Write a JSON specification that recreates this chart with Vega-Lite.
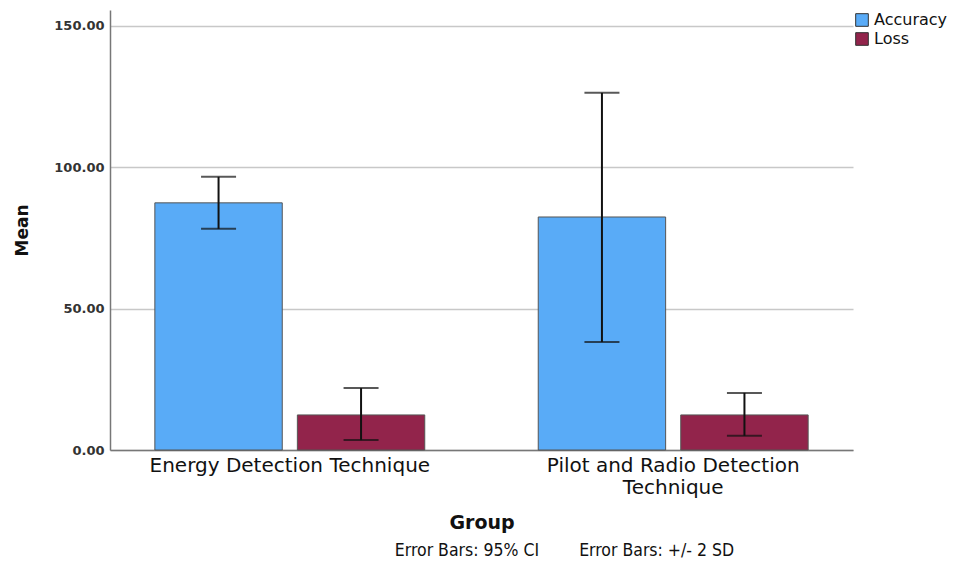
{
  "$schema": "https://vega.github.io/schema/vega-lite/v6.json",
  "width": 743,
  "height": 440,
  "autosize": {"type": "none"},
  "padding": {"left": 110, "top": 10, "right": 101, "bottom": 117},
  "background": "white",
  "title": {
    "text": "Error Bars: 95% CI\u00a0\u00a0\u00a0\u00a0\u00a0\u00a0\u00a0\u00a0Error Bars: +/- 2 SD",
    "orient": "bottom",
    "anchor": "middle",
    "dx": 83,
    "offset": 10,
    "font": "DejaVu Sans Condensed",
    "fontSize": 17.5,
    "fontWeight": "normal",
    "color": "#111"
  },
  "data": {
    "values": [
      {"group": "Energy Detection Technique", "measure": "Accuracy", "mean": 87.4, "lo": 78.2, "hi": 96.6},
      {"group": "Energy Detection Technique", "measure": "Loss", "mean": 12.4, "lo": 3.5, "hi": 21.9},
      {"group": "Pilot and Radio Detection Technique", "measure": "Accuracy", "mean": 82.4, "lo": 38.2, "hi": 126.3},
      {"group": "Pilot and Radio Detection Technique", "measure": "Loss", "mean": 12.4, "lo": 5.0, "hi": 20.2}
    ]
  },
  "encoding": {
    "x": {
      "field": "group",
      "type": "nominal",
      "sort": null,
      "scale": {"paddingInner": 0.296, "paddingOuter": 0.117},
      "axis": {
        "title": "Group",
        "titleFont": "DejaVu Sans",
        "titleFontSize": 19,
        "titleFontWeight": "bold",
        "titleColor": "#111",
        "titlePadding": 16,
        "labelAngle": 0,
        "labelFont": "DejaVu Sans",
        "labelFontSize": 20,
        "labelColor": "#111",
        "labelPadding": 5,
        "labelLimit": 0,
        "labelLineHeight": 22,
        "labelExpr": "datum.value == 'Pilot and Radio Detection Technique' ? ['Pilot and Radio Detection', 'Technique'] : datum.value",
        "ticks": false,
        "domainColor": "#777",
        "domainWidth": 1.5,
        "grid": false
      }
    },
    "xOffset": {
      "field": "measure",
      "type": "nominal",
      "scale": {"paddingInner": 0.106, "paddingOuter": 0}
    }
  },
  "layer": [
    {
      "mark": {"type": "bar", "stroke": "#555", "strokeWidth": 1},
      "encoding": {
        "y": {
          "field": "mean",
          "type": "quantitative",
          "scale": {"domain": [0, 155.6], "nice": false},
          "axis": {
            "title": "Mean",
            "titleFont": "DejaVu Sans",
            "titleFontSize": 17,
            "titleFontWeight": "bold",
            "titleColor": "#111",
            "titlePadding": 22,
            "values": [0, 50, 100, 150],
            "format": ".2f",
            "labelFont": "DejaVu Sans",
            "labelFontSize": 13,
            "labelFontWeight": "bold",
            "labelColor": "#333",
            "labelPadding": 6,
            "ticks": false,
            "domainColor": "#777",
            "domainWidth": 1.5,
            "gridColor": "#c8c8c8",
            "gridWidth": 1.5
          }
        },
        "color": {
          "field": "measure",
          "type": "nominal",
          "scale": {"domain": ["Accuracy", "Loss"], "range": ["#59abf7", "#92244b"]},
          "legend": {
            "title": null,
            "orient": "none",
            "legendX": 744,
            "legendY": 2,
            "symbolType": "square",
            "symbolSize": 160,
            "symbolStrokeColor": "#333",
            "symbolStrokeWidth": 1,
            "symbolOpacity": 1,
            "labelFont": "DejaVu Sans",
            "labelFontSize": 16,
            "labelColor": "#111",
            "labelOffset": 4,
            "rowPadding": 1
          }
        }
      }
    },
    {
      "mark": {"type": "rule", "color": "#111", "strokeWidth": 2},
      "encoding": {
        "y": {"field": "lo", "type": "quantitative"},
        "y2": {"field": "hi"}
      }
    },
    {
      "mark": {"type": "tick", "color": "#111", "thickness": 2, "size": 35},
      "encoding": {"y": {"field": "lo", "type": "quantitative"}}
    },
    {
      "mark": {"type": "tick", "color": "#111", "thickness": 2, "size": 35},
      "encoding": {"y": {"field": "hi", "type": "quantitative"}}
    }
  ],
  "config": {
    "view": {"stroke": null},
    "axisX": {"grid": false}
  }
}
